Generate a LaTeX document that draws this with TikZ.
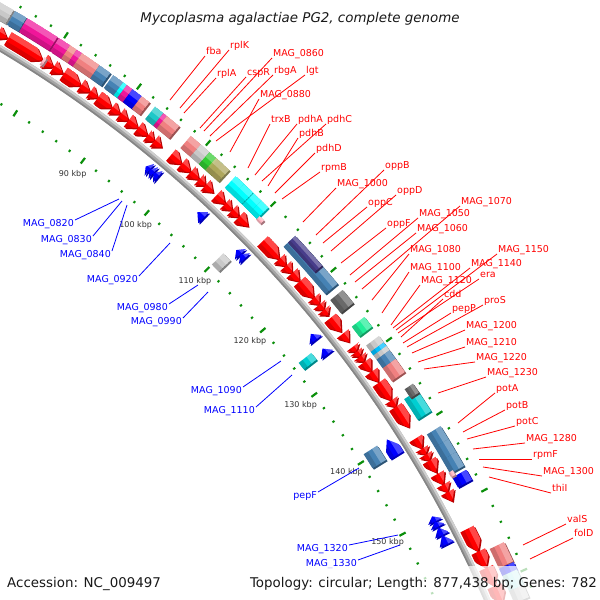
\documentclass[tikz,border=0pt]{standalone}
\usepackage{fontspec}
\setmainfont{DejaVu Sans}
\definecolor{fwdred}{HTML}{FF0000}
\definecolor{revblue}{HTML}{0000FF}
\definecolor{cmag}{HTML}{F0169A}
\definecolor{ccoral}{HTML}{F08080}
\definecolor{csteel}{HTML}{4682B4}
\definecolor{ccyan}{HTML}{00FFFF}
\definecolor{cturq}{HTML}{1EC8C8}
\definecolor{cblue}{HTML}{0000FF}
\definecolor{clgrey}{HTML}{C8C8C8}
\definecolor{cgreen}{HTML}{33CC33}
\definecolor{ckhaki}{HTML}{B8B060}
\definecolor{cslate}{HTML}{483D8B}
\definecolor{cdim}{HTML}{696969}
\definecolor{cspring}{HTML}{22EE99}
\definecolor{csky}{HTML}{00BFFF}
\definecolor{cpink}{HTML}{FFB6C1}
\definecolor{cpale}{HTML}{AFEEEE}
\definecolor{cdturq}{HTML}{00CED1}
\definecolor{tickgreen}{HTML}{0B8F0B}
\definecolor{labred}{HTML}{FF0000}
\definecolor{labblue}{HTML}{0000FF}
\definecolor{bbmid}{HTML}{A5A5A5}
\definecolor{bblight}{HTML}{CFCFCF}
\definecolor{bbdark}{HTML}{858585}

\newcommand{\pa}[1]{89.8-0.41028*(#1)}
\newcommand{\bandpath}[4]{(#1:#3pt) arc[start angle=#1,end angle=#2,radius=#3pt] -- (#2:#4pt) arc[start angle=#2,end angle=#1,radius=#4pt] -- cycle}
\newcommand{\shadeit}[4]{%
  \pgfmathsetmacro\sA{#1+0.3}\pgfmathsetmacro\sB{#2-0.3}%
  \pgfmathsetmacro\rM{#3+0.62*(#4-#3)}\pgfmathsetmacro\rO{#4+2}%
  \pgfmathsetmacro\rN{#3+0.3*(#4-#3)}\pgfmathsetmacro\rI{#3-2}%
  \fill[white,fill opacity=.28] \bandpath{\sA}{\sB}{\rM}{\rO};%
  \fill[black,fill opacity=.14] \bandpath{\sA}{\sB}{\rI}{\rN};}
\tikzset{extrude/.style={shift={(1.4pt,-1.4pt)}}}
\newcommand{\cogbox}[5]{%
  \pgfmathsetmacro\aA{\pa{#1}}\pgfmathsetmacro\aB{\pa{#2}}%
  \fill[#5,extrude] \bandpath{\aA}{\aB}{#3}{#4};
  \fill[black,fill opacity=.35,extrude] \bandpath{\aA}{\aB}{#3}{#4};
  \begin{scope}
    \clip \bandpath{\aA}{\aB}{#3}{#4};
    \fill[#5] \bandpath{\aA}{\aB}{#3}{#4};
    \shadeit{\aA}{\aB}{#3}{#4}
  \end{scope}}
\newcommand{\fwdpath}{(\aA:\rIn pt) arc[start angle=\aA,end angle=\aH,radius=\rIn pt] -- (\aB:\rMid pt) -- (\aH:\rOut pt) arc[start angle=\aH,end angle=\aA,radius=\rOut pt] -- cycle}
\newcommand{\revpath}{(\aB:\rIn pt) arc[start angle=\aB,end angle=\aH,radius=\rIn pt] -- (\aA:\rMid pt) -- (\aH:\rOut pt) arc[start angle=\aH,end angle=\aB,radius=\rOut pt] -- cycle}
\newcommand{\fwd}[2]{%
  \pgfmathsetmacro\aA{\pa{#1}}\pgfmathsetmacro\aB{\pa{#2}}%
  \pgfmathsetmacro\aH{\aB+min(0.5,0.97*(\aA-\aB))}%
  \def\rIn{1205}\def\rOut{1220}\def\rMid{1212.5}%
  \fill[fwdred!72!black,extrude] \fwdpath;
  \begin{scope}\clip \fwdpath; \fill[fwdred] \fwdpath; \shadeit{\aA}{\aB}{\rIn}{\rOut}\end{scope}}
\newcommand{\rev}[2]{%
  \pgfmathsetmacro\aA{\pa{#1}}\pgfmathsetmacro\aB{\pa{#2}}%
  \pgfmathsetmacro\aH{\aA-min(0.5,0.97*(\aA-\aB))}%
  \def\rIn{1180}\def\rOut{1195}\def\rMid{1187.5}%
  \fill[revblue!72!black,extrude] \revpath;
  \begin{scope}\clip \revpath; \fill[revblue] \revpath; \shadeit{\aA}{\aB}{\rIn}{\rOut}\end{scope}}

\tikzset{
  redlab/.style={font=\fontsize{9.5}{11}\selectfont, text=labred, inner sep=1pt, anchor=south west, text depth=0pt},
  bluelab/.style={font=\fontsize{9.5}{11}\selectfont, text=labblue, inner sep=1pt, anchor=north east, text height=5.5pt},
  redline/.style={draw=labred, line width=0.8pt},
  blueline/.style={draw=labblue, line width=0.8pt},
  tickmin/.style={draw=tickgreen, line width=2pt},
  tickmaj/.style={draw=tickgreen, line width=2.2pt},
  ticklab/.style={font=\fontsize{8}{9}\selectfont, text=black!80, inner sep=0pt},
  bigtext/.style={font=\fontsize{13.4}{15}\selectfont, text=black!90, inner sep=0pt},
}

\begin{document}
\begin{tikzpicture}[x=1pt,y=1pt]
\useasboundingbox (0,0) rectangle (600,-600);
\fill[white] (0,0) rectangle (600,-600);
\clip (0,0) rectangle (600,-600);

\begin{scope}[shift={(-613,-1080)}]
  % backbone
  \draw[bbmid, line width=6pt] (100:1200pt) arc[start angle=100,end angle=10,radius=1200pt];
  \draw[bblight, line width=2pt] (100:1202pt) arc[start angle=100,end angle=10,radius=1202pt];
  \draw[bbdark, line width=1.6pt] (100:1197.8pt) arc[start angle=100,end angle=10,radius=1197.8pt];

  % ticks
  \foreach \k in {66,68,...,168}{
    \pgfmathsetmacro\ta{\pa{\k}}
    \pgfmathtruncatemacro\ismaj{mod(\k,10)==0 ? 1 : 0}
    \ifnum\ismaj=1
      \draw[tickmaj] (\ta:1242.5pt) -- (\ta:1249.5pt);
      \draw[tickmaj] (\ta:1149.5pt) -- (\ta:1156.5pt);
    \else
      \draw[tickmin] (\ta:1244.8pt) -- (\ta:1247.2pt);
      \draw[tickmin] (\ta:1151.8pt) -- (\ta:1154.2pt);
    \fi
  }
  \foreach \k in {90,100,...,150}{
    \pgfmathsetmacro\ta{\pa{\k}}
    \node[ticklab] (tk\k) at (\ta:1136pt) {\k\ kbp};
  }

  % outer COG ring
  \foreach \a/\b/\c in {71.0/73.5/clgrey, 73.7/75.2/csteel, 75.3/79.3/cmag, 79.5/81.0/cmag,
     81.0/81.9/ccoral, 81.9/82.6/cmag, 82.6/85.0/ccoral, 85.0/86.5/csteel, 86.9/88.3/csteel,
     88.3/88.8/ccyan, 88.8/89.6/cmag, 89.6/90.9/cblue, 90.9/92.0/ccoral, 92.8/94.0/cturq,
     94.0/94.5/cmag, 94.5/96.3/ccoral, 98.0/99.5/ccoral, 99.5/100.8/clgrey, 100.8/102.6/cgreen,
     104.8/106.1/ccyan, 106.1/107.5/ccyan, 107.6/108.8/ccyan, 108.8/109.9/ccyan,
     114.3/121.5/csteel, 122.4/124.3/cdim, 126.3/127.7/cspring, 129.0/129.9/clgrey,
     129.9/130.4/csky, 130.4/131.0/clgrey, 131.0/132.2/csteel, 132.2/134.0/ccoral,
     136.5/139.3/cdturq, 141.3/143.0/csteel, 143.0/144.7/csteel, 144.7/146.5/csteel,
     147.0/148.3/cblue, 156.2/158.6/ccoral, 158.7/159.6/cblue, 159.6/161.5/cpale, 161.5/163.0/clgrey}{
    \cogbox{\a}{\b}{1224}{1240}{\c}
  }
  \cogbox{101.8}{103.8}{1224}{1240}{ckhaki,fill opacity=.85}
  \cogbox{114.3}{118.8}{1230}{1240}{cslate}
  \cogbox{135.6}{136.8}{1230}{1240}{cdim}
  \cogbox{109.9}{110.6}{1223}{1228}{cpink}
  \cogbox{146.3}{146.9}{1223}{1228}{cpink}

  % inner COG ring
  \cogbox{110.0}{111.2}{1160}{1176}{clgrey}
  \cogbox{125.8}{126.8}{1160}{1176}{cdturq}
  \cogbox{139.3}{141.3}{1160}{1176}{csteel}

  % forward CDS
  \foreach \a/\b in {72.0/73.3, 73.3/74.5, 74.6/79.3, 79.5/80.8, 80.8/82.1, 82.2/84.6,
     84.6/85.9, 85.9/87.0, 87.0/89.0, 89.0/90.2, 90.2/91.4, 91.4/92.8, 92.8/94.2, 94.2/95.2,
     95.2/96.3, 97.7/99.3, 99.3/100.7, 100.7/102.0, 102.0/103.0, 103.0/104.2, 104.7/106.1,
     106.1/107.2, 107.2/108.3, 108.3/109.8, 112.2/115.0, 115.0/116.1, 116.1/117.2, 117.2/118.5,
     118.5/121.0, 121.0/122.0, 122.0/122.8, 122.8/123.6, 124.0/126.0, 126.3/127.5, 128.2/128.9,
     128.9/129.6, 129.6/130.3, 130.4/131.8, 131.8/133.2, 133.3/135.8, 135.8/136.7, 136.7/139.5,
     141.0/142.4, 142.4/143.2, 143.2/144.0, 144.0/145.6, 145.8/147.2, 147.2/148.2, 148.2/149.4,
     153.0/155.9, 155.9/158.0, 158.0/160.3, 160.3/162.5}{
    \fwd{\a}{\b}
  }
  \cogbox{79.3}{79.6}{1207}{1216}{cpink}

  % reverse CDS
  \foreach \a/\b in {96.3/96.9, 96.9/97.5, 97.5/98.2, 104.4/105.4, 110.8/111.5, 111.5/112.2,
     124.0/124.9, 126.2/127.1, 139.3/141.5, 149.8/150.5, 150.5/151.2, 151.3/152.3, 152.3/153.5}{
    \rev{\a}{\b}
  }
\end{scope}

% red labels
\foreach \i/\t/\sx/\sy/\ex/\ey in {1/fba/170/100/205/56, 2/rplK/180/108/229/50, 3/rplA/184/113/216/78,
   4/cspR/200/128/246/77, 5/MAG\_0860/204/131/272/58, 6/rbgA/210/136/273/75, 7/lgt/216/141/305/75,
   8/MAG\_0880/230/152/259/99, 9/trxB/248/168/270/124, 10/pdhA/255/175/297/124, 11/pdhC/262/181/326/124,
   12/pdhB/268/186/298/138, 13/pdhD/275/193/315/153, 14/rpmB/282/199/320/172, 15/MAG\_1000/303/222/336/188,
   16/oppB/316/235/384/170, 17/oppC/323/243/367/207, 18/oppD/331/251/396/195, 19/oppF/341/263/386/228,
   20/MAG\_1050/350/275/418/218, 21/MAG\_1060/355/282/416/233, 22/MAG\_1070/362/289/460/206,
   23/MAG\_1080/372/300/409/254, 24/MAG\_1100/382/313/409/272, 25/MAG\_1120/391/325/420/285,
   26/MAG\_1140/393/328/470/268, 27/MAG\_1150/396/330/497/254, 28/era/398/333/479/279,
   29/cdd/401/337/443/299, 30/pepP/403/343/451/313, 31/proS/407/347/483/305,
   32/MAG\_1200/412/353/465/330, 33/MAG\_1210/418/362/465/347, 34/MAG\_1220/424/369/475/362,
   35/MAG\_1230/438/393/486/377, 36/potA/458/423/495/393, 37/potB/463/432/505/410,
   38/potC/467/439/515/426, 39/MAG\_1280/473/449/525/443, 40/rpmF/479/459/532/459,
   41/MAG\_1300/483/467/542/476, 42/thiI/489/477/551/493, 43/valS/523/545/566/524, 44/folD/530/559/573/538}{
  \coordinate (rs\i) at (\sx,-\sy);
  \node[redlab] (rl\i) at (\ex,-\ey) {\t};
  \draw[redline] (rs\i) -- (rl\i.south west);
}

% blue labels
\foreach \i/\t/\sx/\sy/\ex/\ey in {1/MAG\_0820/119/199/75/220, 2/MAG\_0830/122/201/93/236,
   3/MAG\_0840/127/205/112/251, 4/MAG\_0920/170/243/139/276, 5/MAG\_0980/198/285/169/304,
   6/MAG\_0990/208/292/183/318, 7/MAG\_1090/281/361/243/387, 8/MAG\_1110/292/375/256/407,
   9/pepF/359/468/318/492, 10/MAG\_1320/398/535/349/545, 11/MAG\_1330/400/545/358/560}{
  \coordinate (bs\i) at (\sx,-\sy);
  \node[bluelab] (bl\i) at (\ex,-\ey) {\t};
  \draw[blueline] (bs\i) -- (bl\i.north east);
}

% legend band and texts
\fill[white,fill opacity=.72] (0,-566) rectangle (600,-600);
\node[bigtext, anchor=base] (title) at (300,-22) {\itshape Mycoplasma agalactiae PG2, complete genome};
\node[bigtext, anchor=base west] (acc) at (7,-587) {Accession: NC\_009497};
\node[bigtext, anchor=base east] (topo) at (597,-587) {Topology: circular; Length: 877,438 bp; Genes: 782};
\end{tikzpicture}
\end{document}
